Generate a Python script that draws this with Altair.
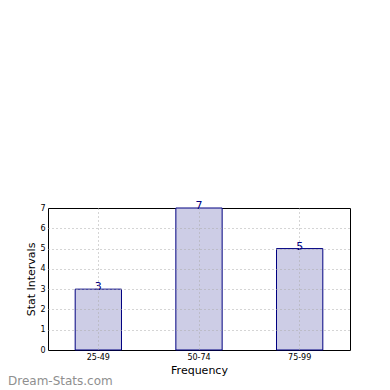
import altair as alt
import pandas as pd

categories = ["25-49", "50-74", "75-99"]
counts = [3, 7, 5]
y_ticks = [0, 1, 2, 3, 4, 5, 6, 7]
watermark = ["Dream-Stats.com"]

df = pd.DataFrame({"interval": categories, "count": counts})
wm = pd.DataFrame({"t": watermark})

FONT = "DejaVu Sans"

x_enc = alt.X(
    "interval:N",
    sort=categories,
    title="Frequency",
    scale=alt.Scale(paddingInner=0.54, paddingOuter=0.27),
    axis=alt.Axis(
        labelAngle=0, labelFontSize=8, labelFont=FONT, labelColor="black",
        titleFontSize=11, titleFont=FONT, titleFontWeight="normal", titleColor="black",
        titlePadding=3, labelPadding=3,
        grid=True, gridDash=[1, 3], gridColor="#aaaaaa",
        ticks=False, domain=False, zindex=1,
    ),
)
y_enc = alt.Y(
    "count:Q",
    title="Stat Intervals",
    scale=alt.Scale(domain=[0, 7], nice=False),
    axis=alt.Axis(
        values=y_ticks, labelOverlap=False, labelFontSize=8, labelFont=FONT, labelColor="black",
        titleFontSize=11, titleFont=FONT, titleFontWeight="normal", titleColor="black",
        titlePadding=3, labelPadding=3,
        grid=True, gridDash=[1, 3], gridColor="#aaaaaa",
        gridOpacity={"condition": {"test": "datum.value == 0 || datum.value == 7", "value": 0}, "value": 1},
        ticks=False, domain=False, zindex=1,
    ),
)

bars = alt.Chart(df).mark_bar(
    fill="#cdcde6", stroke="#000080", strokeWidth=1
).encode(x=x_enc, y=y_enc)

labels = alt.Chart(df).mark_text(
    baseline="alphabetic", dy=1, fontSize=11, font=FONT, color="#000080"
).encode(x=x_enc, y=y_enc, text="count:Q")

mark_wm = alt.Chart(wm).mark_text(
    align="left", baseline="alphabetic", fontSize=12, font=FONT,
    fontWeight="normal", color="#8f8f8f"
).encode(x=alt.value(-40), y=alt.value(176.5), text="t:N")

chart = alt.layer(bars, labels, mark_wm).properties(
    width=302, height=142,
    autosize=alt.AutoSizeParams(type="none"),
    padding={"left": 40, "top": 200, "right": 30, "bottom": 40},
    background="white",
).configure_view(
    stroke="black", strokeWidth=1
)

chart.save("out.html", embed_options={"renderer": "svg", "actions": False})
